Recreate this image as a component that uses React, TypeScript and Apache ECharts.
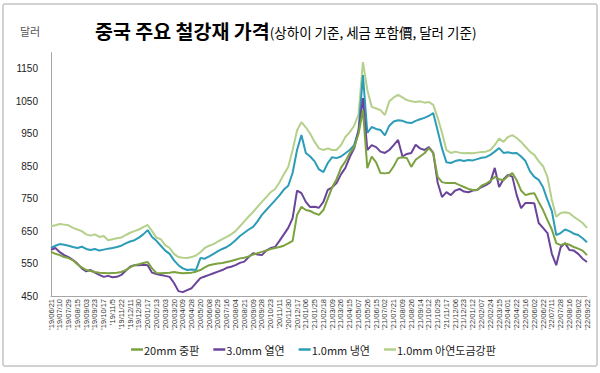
import React, { useEffect, useRef } from "react";
import * as echarts from "echarts";

const dateLabels = [
  "'19/06/21", "'19/07/10", "'19/07/29", "'19/08/15", "'19/09/03", "'19/09/23", "'19/10/17", "'19/11/5",
  "'19/11/22", "'19/12/11", "'19/12/30", "'20/01/17", "'20/02/13", "'20/03/03", "'20/03/20", "'20/04/09",
  "'20/04/28", "'20/05/20", "'20/06/08", "'20/06/29", "'20/07/16", "'20/08/04", "'20/08/21", "'20/09/09",
  "'20/09/28", "'20/10/23", "'20/11/11", "'20/11/30", "'20/12/17", "'21/01/06", "'21/01/25", "'21/02/18",
  "'21/03/09", "'21/03/26", "'21/04/15", "'21/05/07", "'21/05/26", "'21/06/15", "'21/07/02", "'21/07/21",
  "'21/08/09", "'21/08/26", "'21/09/14", "'21/10/12", "'21/10/29", "'21/11/17", "'21/12/06", "'21/12/23",
  "'22/01/12", "'22/02/07", "'22/02/24", "'22/03/15", "'22/04/01", "'22/04/22", "'22/05/16", "'22/06/02",
  "'22/06/22", "'22/07/11", "'22/07/28", "'22/08/16", "'22/09/02", "'22/09/22",
];

// one reading at every labelled date and one between each pair of labelled dates
const plate20mm = [
  586, 580, 576, 570, 567, 560, 548, 538, 530, 527, 524, 522, 521, 520, 521, 522, 524, 530, 538, 545,
  548, 552, 555, 535, 521, 520, 521, 522, 524, 522, 520, 521, 522, 525, 530, 538, 545, 548, 550, 552,
  555, 558, 562, 566, 568, 572, 578, 582, 586, 590, 595, 598, 601, 605, 612, 620, 700, 725, 715, 712,
  705, 700, 715, 750, 785, 810, 845, 865, 890, 909, 950, 1023, 844, 880, 862, 829, 828, 830, 850, 875,
  878, 875, 848, 870, 880, 890, 906, 891, 817, 801, 798, 798, 798, 792, 786, 780, 777, 777, 790, 796,
  805, 817, 810, 807, 820, 829, 807, 775, 761, 765, 767, 740, 715, 684, 655, 613, 607, 612, 608, 601,
  596, 590, 576,
];
const hotRolled3mm = [
  592, 598, 585, 576, 570, 561, 550, 535, 526, 530, 522, 515, 509, 512, 508, 509, 515, 528, 540, 545,
  545, 546, 545, 522, 518, 515, 512, 509, 490, 465, 462, 468, 474, 490, 505, 510, 515, 520, 525, 530,
  537, 540, 545, 552, 556, 570, 582, 578, 576, 590, 598, 601, 620, 640, 660, 690, 775, 767, 740, 724,
  725, 722, 740, 777, 785, 798, 825, 845, 878, 905, 960, 1060, 900, 915, 909, 895, 891, 900, 915, 931,
  880, 888, 891, 916, 905, 900, 909, 891, 800, 755, 770, 761, 775, 780, 772, 770, 775, 777, 786, 792,
  801, 845, 786, 810, 823, 818, 761, 721, 737, 737, 736, 675, 660, 644, 580, 545, 600, 613, 592, 590,
  580, 565, 555,
];
const coldRolled1mm = [
  598, 605, 610, 608, 605, 601, 598, 602, 595, 592, 595, 590, 593, 596, 598, 601, 605, 612, 618, 622,
  630, 640, 653, 632, 620, 605, 590, 580, 560, 545, 535, 530, 532, 530, 567, 565, 572, 580, 588, 595,
  601, 610, 622, 635, 645, 655, 663, 680, 700, 715, 730, 745, 760, 778, 790, 830, 900, 946, 891, 880,
  865, 840, 832, 860, 878, 875, 880, 890, 900, 915, 960, 1131, 953, 971, 965, 962, 945, 975, 988, 992,
  990, 985, 983, 990, 995, 999, 1005, 1014, 960, 905, 862, 860, 866, 869, 866, 869, 868, 872, 876, 878,
  885, 895, 906, 891, 893, 890, 891, 880, 866, 835, 817, 808, 785, 746, 712, 638, 644, 655, 650, 642,
  638, 628, 616,
];
const galvanized1mm = [
  665, 668, 672, 670, 668, 660, 655, 650, 640, 636, 640, 632, 635, 622, 625, 628, 630, 638, 645, 650,
  655, 662, 669, 650, 630, 625, 607, 598, 580, 570, 568, 567, 570, 575, 585, 598, 605, 610, 618, 625,
  632, 640, 650, 665, 680, 695, 709, 725, 740, 755, 770, 780, 800, 825, 848, 900, 960, 986, 970, 950,
  925, 905, 900, 905, 900, 900, 915, 940, 955, 975, 1010, 1171, 1085, 1033, 1028, 1023, 1008, 1050, 1062, 1070,
  1062, 1054, 1050, 1048, 1050, 1046, 1048, 1039, 1000, 953, 900, 891, 895, 892, 890, 891, 890, 892, 894, 895,
  900, 915, 935, 925, 940, 946, 937, 925, 910, 895, 885, 866, 850, 817, 746, 694, 706, 708, 705, 694,
  685, 675, 660,
];

const seriesNames = ["20mm 중판", "3.0mm 열연", "1.0mm 냉연", "1.0mm 아연도금강판"];
const seriesColors = ["#7ba23f", "#6a449a", "#2c9cb8", "#b4d08b"];

const yTickLabels = [450, 550, 650, 750, 850, 950, 1050, 1150];

const categories: string[] = [];
for (let i = 0; i < dateLabels.length; i++) {
  categories.push(dateLabels[i]);
  if (i < dateLabels.length - 1) categories.push(" ".repeat(i + 1));
}

const KR = "'Noto Sans CJK KR', 'Noto Sans', sans-serif";

export default function App() {
  const ref = useRef<HTMLDivElement>(null);
  useEffect(() => {
    if (!ref.current) return;
    const chart = echarts.init(ref.current, null, { renderer: "svg" });
    const data = [plate20mm, hotRolled3mm, coldRolled1mm, galvanized1mm];
    chart.setOption({
      animation: false,
      backgroundColor: "#ffffff",
      title: {
        text: "{a|중국 주요 철강재 가격}{b|(상하이 기준, 세금 포함價, 달러 기준)}",
        left: 90,
        top: 16,
        textStyle: {
          rich: {
            a: { fontFamily: KR, fontSize: 19.5, fontWeight: "bold", color: "#000" },
            b: { fontFamily: KR, fontSize: 13.5, fontWeight: "normal", color: "#000", padding: [3, 0, 0, 0] },
          },
        },
      },
      graphic: [
        {
          type: "rect",
          shape: { x: 3, y: 4, width: 594, height: 362, r: 2 },
          style: { fill: "none", stroke: "#c4c4c4", lineWidth: 1.5 },
          silent: true,
        },
        {
          type: "text",
          x: 20,
          y: 25,
          style: { text: "달러", fontFamily: KR, fontSize: 11, fill: "#555" },
        },
      ],
      legend: {
        left: 126,
        top: 339,
        icon: "rect",
        itemWidth: 12,
        itemHeight: 2.5,
        itemGap: 14,
        textStyle: { fontFamily: KR, fontSize: 11, color: "#222", padding: [0, 0, 0, -4] },
        data: seriesNames,
      },
      grid: {
        left: 51,
        right: 13,
        top: 52.7,
        bottom: 77,
        containLabel: false,
        outerBoundsMode: "none",
      },
      xAxis: {
        type: "category",
        data: categories,
        boundaryGap: false,
        axisLine: { show: true, lineStyle: { color: "#a6a6a6", width: 1 } },
        axisTick: { show: false },
        axisLabel: {
          interval: 1,
          rotate: 90,
          fontSize: 7.5,
          color: "#333",
          margin: 3,
          fontFamily: "'Liberation Sans', sans-serif",
        },
        splitLine: { show: false },
      },
      yAxis: {
        type: "value",
        min: 450,
        max: 1200,
        interval: 100,
        axisLine: { show: true, lineStyle: { color: "#a6a6a6", width: 1 } },
        axisTick: { show: false },
        splitLine: { show: false },
        axisLabel: {
          showMaxLabel: false,
          fontSize: 10,
          color: "#222",
          margin: 13,
          fontFamily: "'Liberation Sans', sans-serif",
          formatter: (v: number) => (yTickLabels.includes(v) ? String(v) : ""),
        },
      },
      series: seriesNames.map((name, i) => ({
        name,
        type: "line",
        data: data[i],
        symbol: "none",
        showSymbol: false,
        lineStyle: { width: 2, color: seriesColors[i] },
        itemStyle: { color: seriesColors[i] },
        z: i === 0 ? 4 : i === 1 ? 3 : i === 2 ? 2 : 1,
      })),
    });
    return () => chart.dispose();
  }, []);
  return (
    <div
      ref={ref}
      style={{ position: "fixed", left: 0, top: 0, width: 600, height: 373, background: "#fff" }}
    />
  );
}
